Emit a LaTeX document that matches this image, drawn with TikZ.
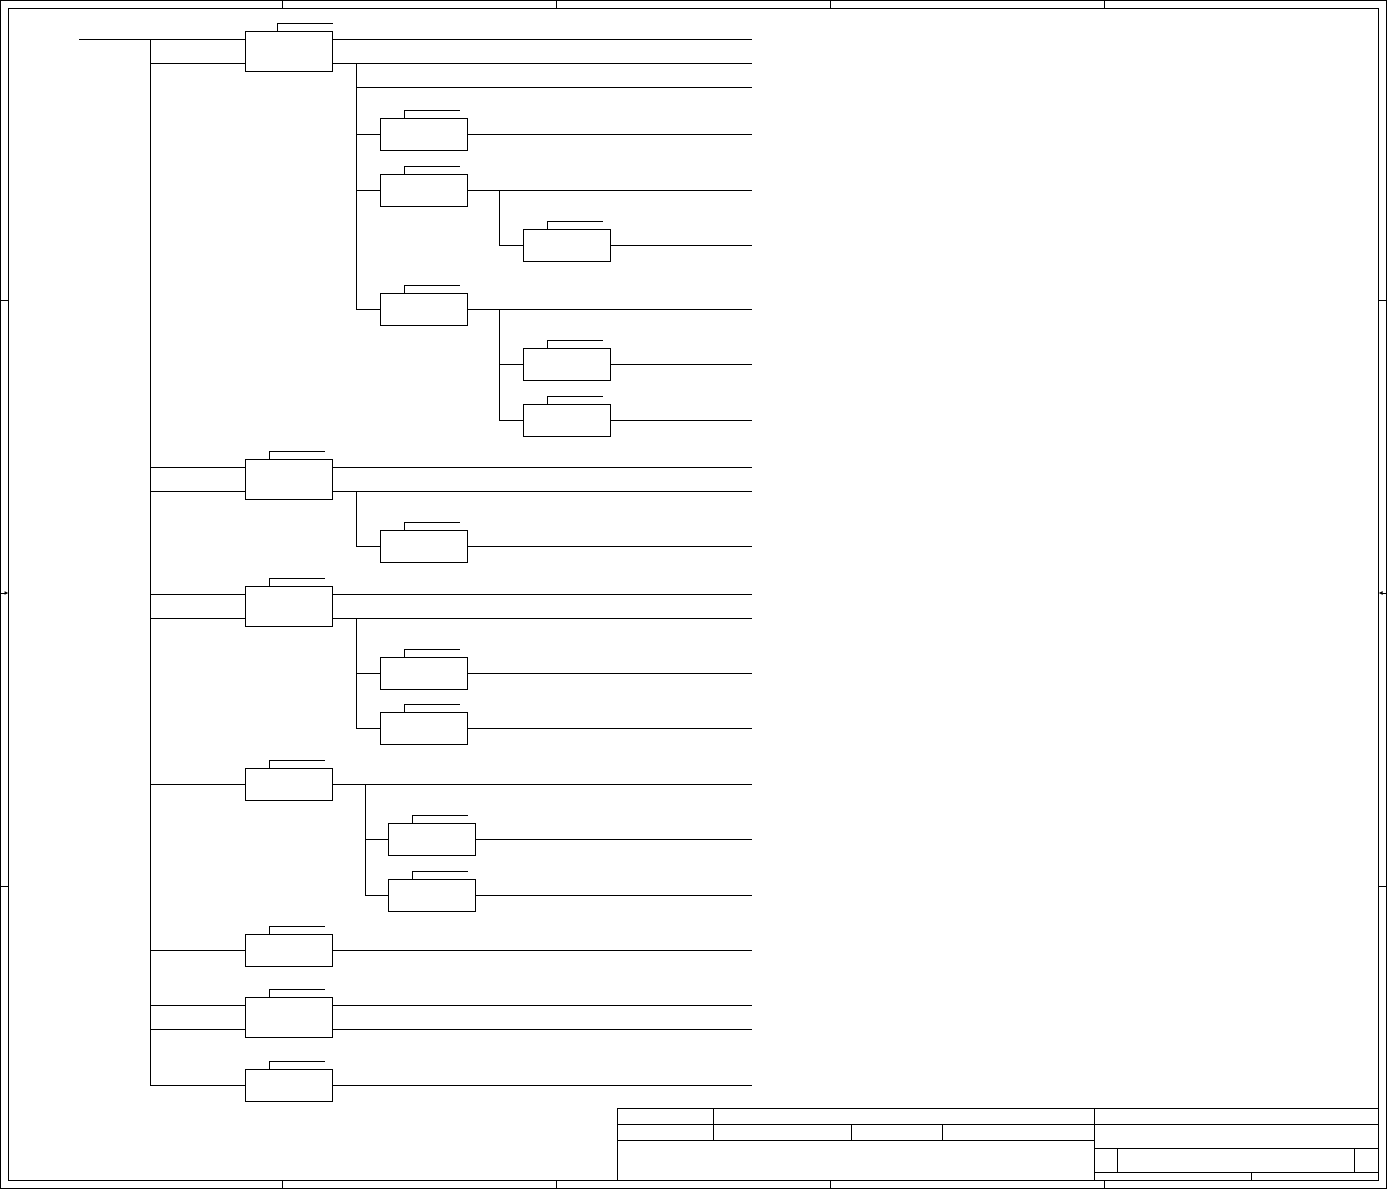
\documentclass[tikz,border=0pt]{standalone}
\usetikzlibrary{arrows.meta}
\begin{document}
\begin{tikzpicture}[x=1pt,y=-1pt,line width=1pt,
  blk/.style={draw,rectangle,inner sep=0pt,outer sep=0pt,minimum width=87pt,anchor=north west},
  tallblk/.style={blk,minimum height=40pt},
  shortblk/.style={blk,minimum height=32pt},
  wire/.style={line width=1pt},
  frame/.style={line width=1pt}]
\useasboundingbox (0,0) rectangle (1387,1189);
% ---------- frame ----------
\draw[frame] (0.5,0.5) rectangle (1386.5,1188.5);
\draw[frame] (8.5,8.5) rectangle (1378.5,1180.5);
\foreach \x in {282,556,830,1104}{
  \draw[frame] (\x,0.5) -- (\x,8.5);
  \draw[frame] (\x,1180.5) -- (\x,1188.5);
}
\foreach \y in {300,886}{
  \draw[frame] (0.5,\y) -- (8.5,\y);
  \draw[frame] (1378.5,\y) -- (1386.5,\y);
}
\coordinate (ml0) at (0.5,593); \coordinate (ml1) at (8.5,593);
\coordinate (mr0) at (1386.5,593); \coordinate (mr1) at (1378.5,593);
\draw[frame,-{Latex[length=4pt,width=4pt]}] (ml0) -- (ml1);
\draw[frame,-{Latex[length=4pt,width=4pt]}] (mr0) -- (mr1);
% ---------- title block ----------
\draw[frame] (617,1108) rectangle (1378.5,1180.5);
\draw[frame] (617,1124) -- (1378.5,1124);
\draw[frame] (617,1140) -- (1094,1140);
\draw[frame] (713,1108) -- (713,1140);
\draw[frame] (1094,1108) -- (1094,1180.5);
\draw[frame] (851,1124) -- (851,1140);
\draw[frame] (942,1124) -- (942,1140);
\draw[frame] (1094,1148) -- (1378.5,1148);
\draw[frame] (1094,1172) -- (1378.5,1172);
\draw[frame] (1117,1148) -- (1117,1172);
\draw[frame] (1354,1148) -- (1354,1172);
\draw[frame] (1251,1172) -- (1251,1180.5);
% ---------- blocks ----------
\node[tallblk]  (A1) at (245,31)  {};
\node[tallblk]  (A2) at (245,459) {};
\node[tallblk]  (A3) at (245,586) {};
\node[shortblk] (A4) at (245,768) {};
\node[shortblk] (A5) at (245,934) {};
\node[tallblk]  (A6) at (245,997) {};
\node[shortblk] (A7) at (245,1069) {};
\node[shortblk] (B1) at (380,118) {};
\node[shortblk] (B2) at (380,174) {};
\node[shortblk] (B3) at (380,293) {};
\node[shortblk] (C1) at (523,229) {};
\node[shortblk] (C2) at (523,348) {};
\node[shortblk] (C3) at (523,404) {};
\node[shortblk] (B4) at (380,530) {};
\node[shortblk] (B5) at (380,657) {};
\node[shortblk] (B6) at (380,712) {};
\node[shortblk] (B7) at (388,823) {};
\node[shortblk] (B8) at (388,879) {};
% tabs
\draw[wire] ([xshift=32pt]A1.north west) -- ++(0pt,8pt) -- ++(56pt,0pt);
\foreach \b in {A2,A3,A4,A5,A6,A7,B1,B2,B3,C1,C2,C3,B4,B5,B6,B7,B8}{
  \draw[wire] ([xshift=24pt]\b.north west) -- ++(0pt,8pt) -- ++(56pt,0pt);
}
% ports of tall blocks
\foreach \b in {A1,A2,A3,A6}{
  \coordinate (\b-i1) at ([yshift=-8pt]\b.north west);
  \coordinate (\b-i2) at ([yshift=8pt]\b.south west);
  \coordinate (\b-o1) at ([yshift=-8pt]\b.north east);
  \coordinate (\b-o2) at ([yshift=8pt]\b.south east);
}
\coordinate (R) at (752,0);
\coordinate (bus) at (150,0);
\coordinate (in) at (79,39);
\coordinate (sA) at (356,0);
\coordinate (sB) at (499,0);
\coordinate (sD) at (365,0);
\coordinate (n87) at (356,87);
% main bus
\draw[wire] (in) -- (A1-i1 -| bus) -- (A7.west -| bus);
% inputs from bus
\foreach \b in {A1,A2,A3,A6}{
  \draw[wire] (\b-i1 -| bus) -- (\b-i1);
  \draw[wire] (\b-i2 -| bus) -- (\b-i2);
  \draw[wire] (\b-o1) -- (\b-o1 -| R);
  \draw[wire] (\b-o2) -- (\b-o2 -| R);
}
\foreach \b in {A4,A5,A7}{
  \draw[wire] (\b.west -| bus) -- (\b.west);
}
% outputs of short blocks
\foreach \b in {A4,A5,A7,B1,B2,B3,C1,C2,C3,B4,B5,B6,B7,B8}{
  \draw[wire] (\b.east) -- (\b.east -| R);
}
% A1 sub-bus
\draw[wire] (A1-o2 -| sA) -- (B3.west -| sA) -- (B3.west);
\draw[wire] (n87) -- (n87 -| R);
\draw[wire] (B1.west -| sA) -- (B1.west);
\draw[wire] (B2.west -| sA) -- (B2.west);
% B2 sub-bus
\draw[wire] (B2.east -| sB) -- (C1.west -| sB) -- (C1.west);
% B3 sub-bus
\draw[wire] (B3.east -| sB) -- (C3.west -| sB) -- (C3.west);
\draw[wire] (C2.west -| sB) -- (C2.west);
% A2 sub-bus
\draw[wire] (A2-o2 -| sA) -- (B4.west -| sA) -- (B4.west);
% A3 sub-bus
\draw[wire] (A3-o2 -| sA) -- (B6.west -| sA) -- (B6.west);
\draw[wire] (B5.west -| sA) -- (B5.west);
% A4 sub-bus
\draw[wire] (A4.east -| sD) -- (B8.west -| sD) -- (B8.west);
\draw[wire] (B7.west -| sD) -- (B7.west);
\end{tikzpicture}
\end{document}
